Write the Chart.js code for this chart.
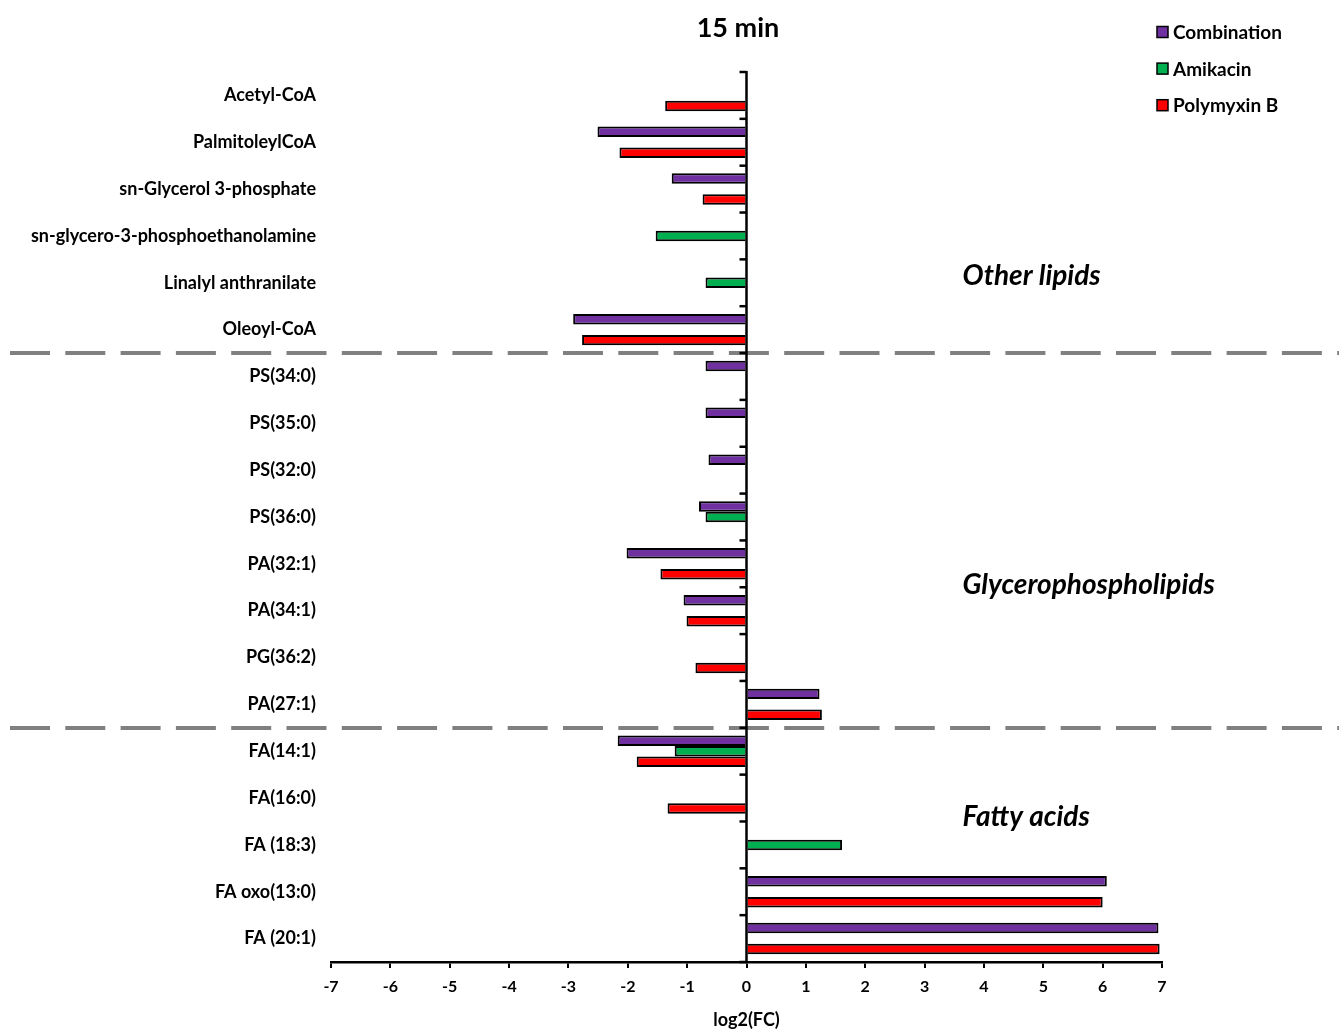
<!DOCTYPE html>
<html>
<head>
<meta charset="utf-8">
<script src="https://cdn.jsdelivr.net/npm/chart.js@4.4.0/dist/chart.umd.min.js"></script>
<style>
  html, body { margin: 0; padding: 0; background: #fff; }
  #wrap { width: 1339px; height: 1032px; position: relative; }
</style>
</head>
<body>
<div id="wrap"><canvas id="c"></canvas></div>
<script>
// Metabolites, top to bottom
const categories = [
  'Acetyl-CoA', 'PalmitoleylCoA', 'sn-Glycerol 3-phosphate',
  'sn-glycero-3-phosphoethanolamine', 'Linalyl anthranilate', 'Oleoyl-CoA',
  'PS(34:0)', 'PS(35:0)', 'PS(32:0)', 'PS(36:0)', 'PA(32:1)', 'PA(34:1)',
  'PG(36:2)', 'PA(27:1)',
  'FA(14:1)', 'FA(16:0)', 'FA (18:3)', 'FA oxo(13:0)', 'FA (20:1)'
];

// log2 fold change per treatment (null = not significant)
const combination = [
  null, -2.51, -1.26, null, null, -2.92,
  -0.69, -0.69, -0.64, -0.80, -2.02, -1.06, null, 1.23,
  -2.17, null, null, 6.07, 6.94
];
const amikacin = [
  null, null, null, -1.53, -0.69, null,
  null, null, null, -0.69, null, null, null, null,
  -1.21, null, 1.61, null, null
];
const polymyxinB = [
  -1.37, -2.14, -0.74, null, null, -2.77,
  null, null, null, null, -1.45, -1.01, -0.86, 1.27,
  -1.85, -1.33, null, 6.00, 6.96
];

const seriesNames = ['Combination', 'Amikacin', 'Polymyxin B'];
const xTickLabels = ['-7', '-6', '-5', '-4', '-3', '-2', '-1', '0', '1', '2', '3', '4', '5', '6', '7'];

// Lipid classes and the last category index of each class
const groupNames = ['Other lipids', 'Glycerophospholipids', 'Fatty acids'];
const groupEnds = [5, 13, 18];

const FONT = 'Lato, "Open Sans", sans-serif';
const colors = ['#7030A0', '#00B050', '#FF0000'];

const decor = {
  id: 'decor',
  afterDatasetsDraw(chart) {
    const { ctx, chartArea: a, scales: { x, y } } = chart;
    const x0 = x.getPixelForValue(0);
    ctx.save();

    // dashed class separators across the whole figure
    ctx.strokeStyle = '#808080';
    ctx.lineWidth = 4;
    ctx.setLineDash([40, 15.3]);
    groupEnds.slice(0, -1).forEach(i => {
      const yy = Math.round(y.getPixelForValue(i + 0.5));
      ctx.beginPath();
      ctx.moveTo(10, yy);
      ctx.lineTo(chart.width, yy);
      ctx.stroke();
    });
    ctx.setLineDash([]);

    // vertical axis at zero with category tick marks
    ctx.strokeStyle = '#000';
    ctx.lineWidth = 2.5;
    ctx.beginPath();
    ctx.moveTo(x0, a.top - 1);
    ctx.lineTo(x0, a.bottom);
    ctx.stroke();
    for (let i = 0; i <= categories.length; i++) {
      const yy = y.getPixelForValue(i - 0.5);
      ctx.beginPath();
      ctx.moveTo(x0 - 7, yy);
      ctx.lineTo(x0, yy);
      ctx.stroke();
    }

    // lipid class names
    ctx.fillStyle = '#000';
    ctx.font = 'italic bold 28px ' + FONT;
    ctx.textAlign = 'left';
    ctx.textBaseline = 'middle';
    const groupLabelY = [3.85, 10.45, 15.4];
    groupNames.forEach((g, k) => {
      ctx.fillText(g, x.getPixelForValue(3.64), y.getPixelForValue(groupLabelY[k]));
    });

    // chart title
    ctx.font = 'bold 27px ' + FONT;
    ctx.textAlign = 'center';
    ctx.fillText('15 min', 738, 28);

    // legend
    ctx.font = 'bold 19px ' + FONT;
    ctx.textAlign = 'left';
    chart.data.datasets.forEach((ds, k) => {
      const cy = 32 + k * 36.6;
      ctx.fillStyle = ds.backgroundColor;
      ctx.fillRect(1157, cy - 5.5, 11, 11);
      ctx.strokeStyle = '#000';
      ctx.lineWidth = 1.5;
      ctx.strokeRect(1157, cy - 5.5, 11, 11);
      ctx.fillStyle = '#000';
      ctx.fillText(ds.label, 1173, cy + 1);
    });
    ctx.restore();
  }
};

const seriesValues = [combination, amikacin, polymyxinB];

new Chart(document.getElementById('c'), {
  type: 'bar',
  data: {
    labels: categories,
    datasets: seriesNames.map((name, k) => ({
      label: name,
      data: seriesValues[k],
      backgroundColor: colors[k],
      borderColor: '#000',
      borderWidth: 2,
      barPercentage: 1.0,
      categoryPercentage: 0.672
    }))
  },
  options: {
    indexAxis: 'y',
    responsive: true,
    maintainAspectRatio: false,
    animation: false,
    layout: { padding: { left: 0, right: 177, top: 72, bottom: 0 } },
    plugins: { legend: { display: false }, tooltip: { enabled: false } },
    scales: {
      x: {
        min: -7, max: 7,
        ticks: {
          stepSize: 1,
          color: '#000',
          padding: 9,
          font: { family: FONT, size: 16, weight: 'bold' },
          callback: (v, i) => xTickLabels[i]
        },
        grid: { drawOnChartArea: false, drawTicks: true, tickLength: 6, color: '#000', lineWidth: 2 },
        border: { color: '#000', width: 2.5 },
        title: {
          display: true, text: 'log2(FC)', color: '#000',
          font: { family: FONT, size: 18, weight: 'bold' },
          padding: { top: 0, bottom: 1 }
        },
        afterFit(s) { s.height = 70; }
      },
      y: {
        ticks: {
          color: '#000',
          padding: 15,
          font: { family: FONT, size: 18, weight: 'bold' }
        },
        grid: { display: false, drawTicks: false },
        border: { display: false },
        afterFit(s) { s.width = 331; }
      }
    }
  },
  plugins: [decor]
});
</script>
</body>
</html>
